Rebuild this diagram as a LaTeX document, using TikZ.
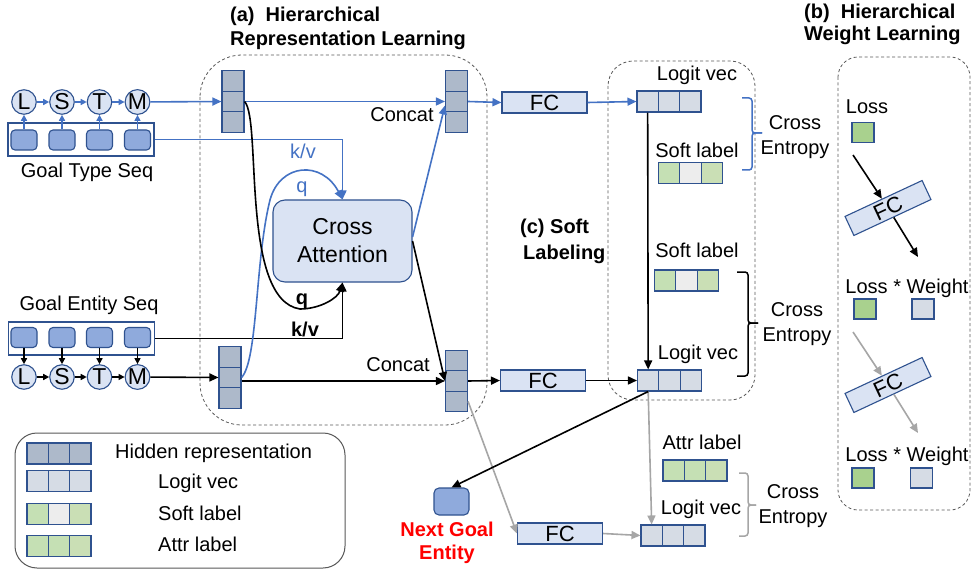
\documentclass[tikz,border=0pt]{standalone}
\usepackage{fontspec}
\setmainfont{Liberation Sans}
\usetikzlibrary{arrows.meta,calc}
\definecolor{bdr}{HTML}{2F528F}
\definecolor{lblue}{HTML}{4472C4}
\definecolor{lfill}{HTML}{DAE3F3}
\definecolor{sqfill}{HTML}{8FAADC}
\definecolor{hid}{HTML}{ADB9CA}
\definecolor{logit}{HTML}{D6DCE5}
\definecolor{sg}{HTML}{C5E0B4}
\definecolor{sgb}{HTML}{CADFB5}
\definecolor{sgray}{HTML}{EDEDED}
\definecolor{lossg}{HTML}{A9D18E}
\definecolor{gline}{HTML}{A6A6A6}
\definecolor{dgray}{HTML}{595959}
\newcommand\hrowcells[6]{%
 \node[cell,fill=#4] (#1a) at ({#2-21.33},#3) {};
 \node[cell,fill=#5] (#1b) at (#2,#3) {};
 \node[cell,fill=#6] (#1c) at ({#2+21.33},#3) {};}
\newcommand\vcolcells[3]{%
 \node[vcell] (#1a) at (#2,{#3-20.4}) {};
 \node[vcell] (#1b) at (#2,#3) {};
 \node[vcell] (#1c) at (#2,{#3+20.4}) {};}
\tikzset{
 txt/.style={font=\fontsize{20}{24}\selectfont, inner sep=0pt, text height=14pt, text depth=4pt},
 btxt/.style={txt, font=\fontsize{20}{24}\selectfont\bfseries},
 tml/.style={font=\fontsize{20}{25}\selectfont, inner sep=0pt, align=center},
 btml/.style={font=\fontsize{20}{23}\selectfont\bfseries, inner sep=0pt, align=center},
 ttl/.style={font=\fontsize{20}{24}\selectfont\bfseries, inner sep=0pt, anchor=base west},
 cell/.style={draw=bdr, line width=1.1pt, minimum width=21.33pt, minimum height=21pt, inner sep=0pt},
 vcell/.style={cell, fill=hid, minimum width=22pt, minimum height=20.4pt},
 lstm/.style={circle, draw=bdr, fill=lfill, line width=1.1pt, minimum size=24.5pt, inner sep=0pt, font=\fontsize{23}{24}\selectfont},
 sqn/.style={draw=bdr, fill=sqfill, rounded corners=4pt, minimum width=26pt, minimum height=20pt, inner sep=0pt, line width=1.1pt},
 seqbox/.style={draw=bdr, line width=1.3pt, minimum width=146pt, minimum height=33pt, inner sep=0pt},
 fcbox/.style={draw=bdr, fill=lfill, line width=1.1pt, minimum width=85pt, minimum height=21pt, inner sep=0pt, font=\fontsize{22}{24}\selectfont},
 sqr/.style={draw=bdr, line width=1.1pt, minimum width=22pt, minimum height=20pt, inner sep=0pt},
 region/.style={draw=dgray, dash pattern=on 3pt off 2.5pt, line width=0.8pt},
 arr/.style={line width=1.6pt, -{Triangle[length=9pt,width=8pt]}},
 sarr/.style={line width=1.4pt, -{Triangle[length=6pt,width=6pt]}},
 brc/.style={line width=1.5pt, rounded corners=3pt},
}
\begin{document}
\begin{tikzpicture}[x=1pt,y=-1pt]
\useasboundingbox (0,0) rectangle (972,572);
\fill[white] (0,0) rectangle (972,572);
% regions
\draw[region, rounded corners=42pt] (200,55) rectangle (487,425);
\draw[region, rounded corners=25pt] (608,61) rectangle (755,400);
\draw[region, rounded corners=20pt] (838,57) rectangle (970,510);
\draw[draw=dgray, line width=1pt, rounded corners=22pt] (15,433) rectangle (345,568);
% titles
\node[ttl] (ta1) at (230,22) {(a)\ \ Hierarchical};
\node[ttl] (ta2) at (230,46) {Representation Learning};
\node[ttl] (tb1) at (804,19) {(b)\ \ Hierarchical};
\node[ttl] (tb2) at (804,41) {Weight Learning};
\node[ttl] (tc1t) at (520,234) {(c) Soft};
\node[ttl] (tc2t) at (523,259) {Labeling};
% goal type seq
\node[seqbox] (tbox) at (81,139.5) {};
\foreach \l/\x [count=\i] in {L/24,S/62,T/99.5,M/137.5} {
  \node[lstm] (tc\i) at (\x,102) {\l};
  \node[sqn] (ts\i) at (\x,140) {};
  \draw[sarr, lblue] (ts\i) -- (tc\i);
}
\draw[sarr, lblue] (tc1) -- (tc2);
\draw[sarr, lblue] (tc2) -- (tc3);
\draw[sarr, lblue] (tc3) -- (tc4);
\node[txt] (tlab) at (87,173) {Goal Type Seq};
% goal entity seq
\node[txt] (elab) at (89,305) {Goal Entity Seq};
\node[seqbox] (ebox) at (81.5,338.5) {};
\foreach \l/\x [count=\i] in {L/24,S/62,T/99.5,M/137.5} {
  \node[lstm] (ec\i) at (\x,377) {\l};
  \node[sqn] (es\i) at (\x,337.5) {};
  \draw[sarr] (es\i) -- (ec\i);
}
\draw[sarr] (ec1) -- (ec2);
\draw[sarr] (ec2) -- (ec3);
\draw[sarr] (ec3) -- (ec4);
% hidden columns
\vcolcells{ca}{233}{101.5}
\vcolcells{cb}{456.5}{101.5}
\vcolcells{cc}{230}{377.5}
\vcolcells{cd}{456.5}{381}
% cross attention
\node[draw=bdr, fill=lfill, line width=1.1pt, rounded corners=12pt, minimum width=139pt, minimum height=82pt, inner sep=0pt, font=\fontsize{23}{28}\selectfont, align=center] (att) at (342.5,241) {Cross\\Attention};
% connectors in (a)
\draw[arr, lblue] (tc4) -- (cab.west);
\draw[arr] (ec4) -- (ccb.west);
\draw[arr, lblue] (cab.east) -- (cbb.west);
\draw[arr] (ccb.east |- cdb.west) -- (cdb.west);
\draw[arr, lblue] (tbox.east) -| (att.north);
\draw[arr] (ebox.east) -| (att.south);
\draw[arr, lblue] (ccb.east) .. controls (258,360) and (255,260) .. (270,200) .. controls (280,163) and (322,160) .. (att.north);
\draw[arr] (cab.east) .. controls (262,120) and (240,300) .. (300,309) .. controls (320,309) and (338,298) .. (att.south);
\draw[arr, lblue] ([yshift=4pt]att.east) -- ([yshift=-4pt]cbb.west);
\draw[arr] (att.east) -- (cdb.west);
\node[txt] (cc1) at (402,117) {Concat};
\node[txt, text=lblue] (kv1) at (303,154) {k/v};
\node[txt, text=lblue] (q1) at (302,188) {q};
\node[btxt] (q2) at (302,299) {q};
\node[btxt] (kv2) at (305,331) {k/v};
\node[txt] (cc2) at (398,366) {Concat};
% FC boxes
\node[fcbox] (fc1) at (544.5,102.5) {FC};
\node[fcbox] (fc2) at (543,380.5) {FC};
\node[fcbox] (fc3) at (560,533.5) {FC};
\draw[arr, lblue] (cbb.east) -- (fc1.west);
\draw[arr] (cdb.east) -- (fc2.west);
\draw[arr, gline] (cdc.east) -- (fc3.west);
% logit / soft label rows
\hrowcells{lg1}{669}{101.5}{logit}{logit}{logit}
\hrowcells{sl1}{690.5}{173}{sg}{sgray}{sgb}
\hrowcells{sl2}{686.5}{280.5}{sg}{sgray}{sgb}
\hrowcells{lg2}{669.5}{380.5}{logit}{logit}{logit}
\hrowcells{at3}{695}{470.5}{sg}{sg}{sgb}
\hrowcells{lg3}{673}{535.5}{logit}{logit}{logit}
\draw[arr, lblue] (fc1.east) -- (lg1a.west);
\draw[arr] (fc2.east) -- (lg2a.west);
\draw[arr, gline] (fc3.east) -- (lg3a.west);
\draw[arr] (lg1a.south) -- (lg2a.north);
\draw[arr, gline] (lg2a.south) -- (lg3a.north);
\node[draw=bdr, fill=sqfill, rounded corners=5pt, line width=1.1pt, minimum width=35pt, minimum height=27pt, inner sep=0pt] (ng) at (451.5,501.5) {};
\draw[arr] (lg2a.south) -- (ng.north);
\node[btml, text=red] (ngt) at (447,543) {Next Goal\\Entity};
\node[txt] (t1) at (697,76) {Logit vec};
\node[txt] (t2) at (697,153) {Soft label};
\node[txt] (t3) at (697,253) {Soft label};
\node[txt] (t4) at (698,354) {Logit vec};
\node[txt] (t5) at (702,444) {Attr label};
\node[txt] (t6) at (701,509) {Logit vec};
% braces
\draw[brc, lblue] (742,98) -- (752,98) -- (752,133) -- (762,133);
\draw[brc, lblue] (742,170) -- (752,170) -- (752,133) -- (762,133);
\draw[brc] (737,272) -- (748,272) -- (748,323) -- (758,323);
\draw[brc] (737,376) -- (748,376) -- (748,323) -- (758,323);
\draw[brc, gline] (739,473) -- (748,473) -- (748,505) -- (756,505);
\draw[brc, gline] (739,536) -- (748,536) -- (748,505) -- (756,505);
\node[tml] (ce1) at (795,137) {Cross\\Entropy};
\node[tml] (ce2) at (797,324) {Cross\\Entropy};
\node[tml] (ce3) at (793,506) {Cross\\Entropy};
% region (b)
\node[txt] (bl1) at (867,109) {Loss};
\node[sqr, fill=lossg] (ls1) at (863,132.5) {};
\node[fcbox, rotate=25] (fb1) at (888,208) {FC};
\coordinate (s1) at (853,155);
\coordinate (e1) at (918,257);
\draw[arr] (s1) -- (fb1);
\draw[arr] (fb1) -- (e1);
\node[txt] (bl2) at (907,288) {Loss * Weight};
\node[sqr, fill=lossg] (ls2) at (865,309) {};
\node[sqr, fill=logit] (ws2) at (923,309) {};
\node[fcbox, rotate=25] (fb2) at (888,385) {FC};
\coordinate (s2) at (853,332);
\coordinate (e2) at (918,433);
\draw[arr, gline] (s2) -- (fb2);
\draw[arr, gline] (fb2) -- (e2);
\node[txt] (bl3) at (907,456) {Loss * Weight};
\node[sqr, fill=lossg] (ls3) at (863,478) {};
\node[sqr, fill=logit] (ws3) at (921.5,478) {};
% legend
\hrowcells{lh}{59}{453.5}{hid}{hid}{hid}
\hrowcells{ll}{59}{481}{logit}{logit}{logit}
\hrowcells{ls}{59}{514}{sg}{sgray}{sgb}
\hrowcells{la}{59}{546}{sg}{sg}{sgb}
\node[txt, anchor=west] (lt1) at (115,453) {Hidden representation};
\node[txt, anchor=west] (lt2) at (158,483) {Logit vec};
\node[txt, anchor=west] (lt3) at (158,515) {Soft label};
\node[txt, anchor=west] (lt4) at (158,546) {Attr label};
\end{tikzpicture}
\end{document}
